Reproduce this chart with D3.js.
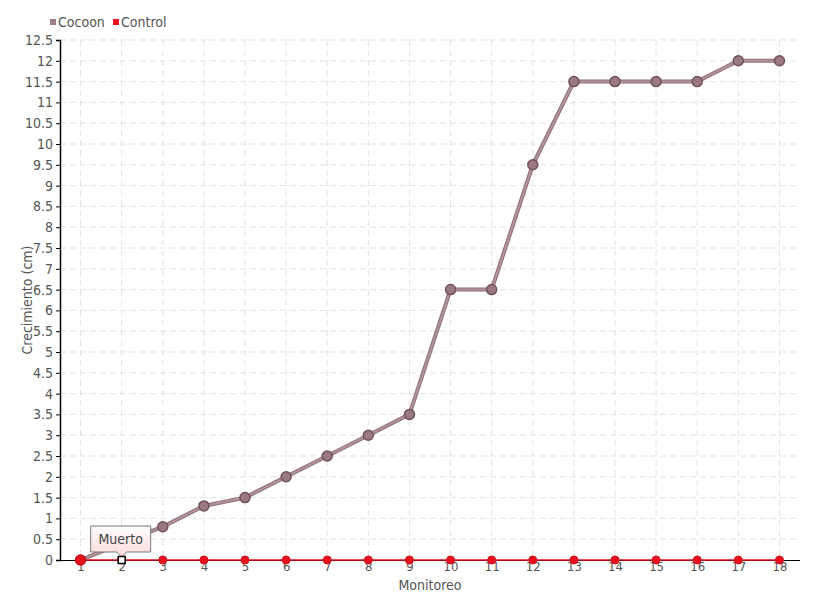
<!DOCTYPE html>
<html><head><meta charset="utf-8">
<script src="https://cdnjs.cloudflare.com/ajax/libs/d3/7.8.5/d3.min.js"></script>
<style>body{margin:0;background:#fff}svg{display:block}text{font-family:"DejaVu Sans Condensed","DejaVu Sans",sans-serif;font-stretch:condensed}</style>
</head><body>
<svg id="c" width="820" height="600"></svg>
<script>
const categories = ["1","2","3","4","5","6","7","8","9","10","11","12","13","14","15","16","17","18"];
const cocoon = [0,0.4,0.8,1.3,1.5,2,2.5,3,3.5,6.5,6.5,9.5,11.5,11.5,11.5,11.5,12,12];
const control = [0,0,0,0,0,0,0,0,0,0,0,0,0,0,0,0,0,0];
const yTicks = [0,0.5,1,1.5,2,2.5,3,3.5,4,4.5,5,5.5,6,6.5,7,7.5,8,8.5,9,9.5,10,10.5,11,11.5,12,12.5];
const seriesNames = ["Cocoon","Control"];
const tooltipLabel = "Muerto";

const svg = d3.select("#c");
const L=60,R=800,T=40,B=560;
const x = d3.scalePoint().domain(categories).range([L,R]).padding(0.5);
const y = d3.scaleLinear().domain([0,12.5]).range([B,T]);
const txt="#555";

// grid
const g = svg.append("g");
g.selectAll(".hg").data(yTicks.slice(1)).join("line")
 .attr("x1",L).attr("x2",R).attr("y1",d=>y(d)).attr("y2",d=>y(d))
 .attr("stroke","#e3e3e3").attr("stroke-dasharray","6,4");
g.selectAll(".vg").data(categories).join("line")
 .attr("x1",d=>x(d)).attr("x2",d=>x(d)).attr("y1",T).attr("y2",B)
 .attr("stroke","#e3e3e3").attr("stroke-dasharray","6,4");

// axes
const ya = svg.append("g").attr("transform",`translate(${L},0)`)
 .call(d3.axisLeft(y).tickValues(yTicks).tickSize(4).tickPadding(3).tickFormat(d3.format("")));
ya.select(".domain").attr("stroke","#000").attr("stroke-width",1.5);
ya.selectAll(".tick line").attr("stroke","#000");
ya.selectAll("text").attr("fill",txt).style("font-size","14px");
const xa = svg.append("g").attr("transform",`translate(0,${B})`)
 .call(d3.axisBottom(x).tickSize(3).tickPadding(-1));
xa.select(".domain").attr("stroke","#000").attr("d",`M${L},0.5H${R}`);
xa.selectAll(".tick line").attr("stroke","#000");
xa.selectAll("text").attr("fill",txt).style("font-size","13px");

svg.append("text").attr("x",430).attr("y",590).attr("text-anchor","middle")
 .attr("fill",txt).style("font-size","14px").text("Monitoreo");
svg.append("text").attr("transform","translate(32,300) rotate(-90)").attr("text-anchor","middle")
 .attr("fill",txt).style("font-size","14px").text("Crecimiento (cm)");

// Control series
const line = d3.line().x((d,i)=>x(categories[i])).y(d=>y(d));
svg.append("path").datum(control).attr("d",line).attr("fill","none")
 .attr("stroke","#e0101e").attr("stroke-width",1.5);
svg.selectAll(".cp").data(control).join("circle")
 .attr("cx",(d,i)=>x(categories[i])).attr("cy",d=>y(d)).attr("r",4)
 .attr("fill","#e8101e").attr("stroke","#d0101c");

// Cocoon series
svg.append("path").datum(cocoon).attr("d",line).attr("fill","none")
 .attr("stroke","#8f7075").attr("stroke-width",4);
svg.append("path").datum(cocoon).attr("d",line).attr("fill","none")
 .attr("stroke","#b0949a").attr("stroke-width",2);
svg.selectAll(".ccp2").data(cocoon.map((v,i)=>({v,i}))).join("circle")
 .attr("cx",d=>x(categories[d.i])).attr("cy",d=>y(d.v)).attr("r",5)
 .attr("fill",d=>d.i===0?"#e8101e":"#9a7a80").attr("stroke",d=>d.i===0?"#c0101a":"#6f5358").attr("stroke-width",1.5);

// hovered control point at 2 and tooltip
const hx = x(categories[1]), hy = y(control[1]);
const defs = svg.append("defs");
const gr = defs.append("linearGradient").attr("id","tg").attr("x1",0).attr("y1",0).attr("x2",0).attr("y2",1);
gr.append("stop").attr("offset","0%").attr("stop-color","#ffffff");
gr.append("stop").attr("offset","100%").attr("stop-color","#fcd8d8");
const tw=60, th=26, tx=hx-31, ty=hy-34;
svg.append("path").attr("d",`M${tx},${ty}H${tx+tw}V${ty+th}H${hx+5}L${hx},${ty+th+5}L${hx-5},${ty+th}H${tx}Z`)
 .attr("fill","url(#tg)").attr("stroke","#777").attr("stroke-width",1);
svg.append("text").attr("x",tx+tw/2).attr("y",ty+18).attr("text-anchor","middle")
 .attr("fill","#444").style("font-size","14px").text(tooltipLabel);
svg.append("rect").attr("x",hx-3.5).attr("y",hy-3.5).attr("width",7).attr("height",7)
 .attr("fill","#fff").attr("stroke","#000").attr("stroke-width",1.5);

// legend
const lg = svg.append("g");
const lx=[50,113], lc=["#a08088","#e8101e"];
seriesNames.forEach((n,i)=>{
  lg.append("rect").attr("x",lx[i]).attr("y",19).attr("width",6).attr("height",6).attr("fill",lc[i]);
  lg.append("text").attr("x",lx[i]+8).attr("y",27).attr("fill",txt).style("font-size","14px").text(n);
});
</script>
</body></html>
